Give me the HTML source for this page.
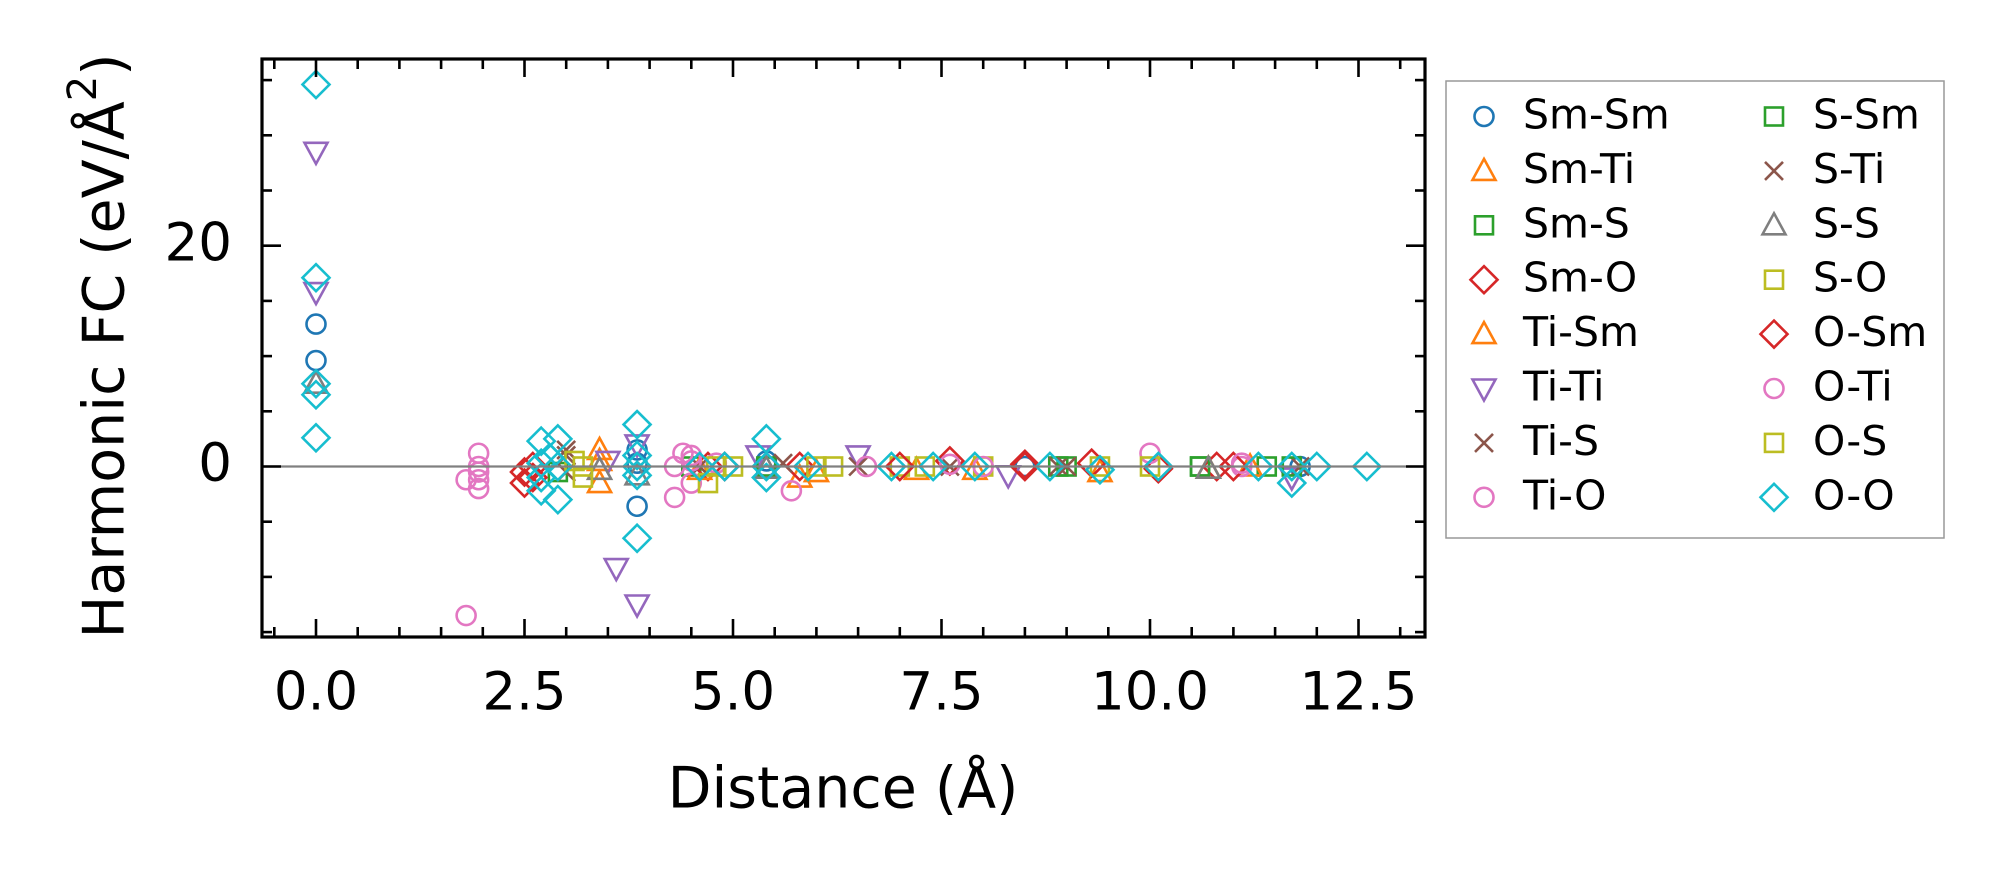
<!DOCTYPE html>
<html><head><meta charset="utf-8"><style>
html,body{margin:0;padding:0;background:#fff;}
svg{display:block;font-family:"DejaVu Sans","Liberation Sans",sans-serif;}
</style></head><body>
<svg id="chart" width="2004" height="883" viewBox="0 0 2004 883" xmlns="http://www.w3.org/2000/svg">
<rect width="2004" height="883" fill="#fff"/>
<g id="marks"></g>
<g id="axes"></g>
<text x="843" y="792" font-size="57" text-anchor="middle" dominant-baseline="middle">Distance (Å)</text>
<text transform="translate(108,346) rotate(-90)" font-size="57" text-anchor="middle" dominant-baseline="middle">Harmonic FC (eV/Å<tspan baseline-shift="super" font-size="40">2</tspan>)</text>
<g id="legend"></g>
</svg>
<script>
const xTicks=[0,2.5,5,7.5,10,12.5];
const xTickLabels=["0.0","2.5","5.0","7.5","10.0","12.5"];
const yTicks=[0,20];
const yTickLabels=["0","20"];
const seriesNames=["Sm-Sm","Sm-Ti","Sm-S","Sm-O","Ti-Sm","Ti-Ti","Ti-S","Ti-O","S-Sm","S-Ti","S-S","S-O","O-Sm","O-Ti","O-S","O-O"];
const seriesColors=["#1f77b4","#ff7f0e","#2ca02c","#d62728","#ff7f0e","#9467bd","#8c564b","#e377c2","#2ca02c","#8c564b","#7f7f7f","#bcbd22","#d62728","#e377c2","#bcbd22","#17becf"];
const seriesMarkers=["o","^","s","D","^","v","x","o","s","x","^","s","D","o","s","D"];
const smSm=[[0,12.9],[0,9.6],[3.85,-3.6],[3.85,1.5],[3.85,0.3],[5.4,0.5],[8.5,0],[11.8,0]];
const smTi=[[3.4,1.5],[3.4,-1.5],[5.8,-1],[7.9,-0.3],[9.4,-0.5],[10.7,-0.2]];
const smS=[[2.9,-0.5],[4.5,0],[8.9,0],[10.6,0],[11.4,0]];
const smO=[[2.5,-0.5],[2.5,-1.5],[2.6,0],[4.7,0],[5.8,0],[7.6,0.5],[8.5,0.2],[9.3,0.3],[10.1,-0.2],[10.8,0]];
const tiSm=[[3.4,0.5],[4.6,-0.3],[6.0,-0.5],[7.2,-0.3],[11.2,0]];
const tiTi=[[0,28.5],[0,15.8],[3.6,-9.2],[3.85,-12.5],[3.85,2],[3.5,0.5],[5.3,1],[6.5,1],[8.3,-0.8],[11.7,-1]];
const tiS=[[3.0,1.5],[3.0,-0.5],[4.6,0],[6.5,0],[7.6,0],[8.9,0],[11.8,0]];
const tiO=[[1.95,1.2],[1.95,0],[1.95,-0.5],[1.95,-1.2],[1.95,-2],[1.8,-1.2],[1.8,-13.5],[4.3,-2.8],[4.3,0],[4.5,0.5],[4.5,-1.5],[4.4,1.2],[5.7,-2.2],[5.4,0],[7.6,0.2],[10.0,1.2],[11.1,0],[4.8,0.3]];
const sSm=[[5.4,0],[10.6,0],[11.7,0],[9.0,0]];
const sTi=[[3.0,1],[5.6,0.3],[9.0,0]];
const sS=[[0,7.5],[3.4,-0.3],[3.85,-0.8],[5.4,-0.2],[10.7,-0.2]];
const sO=[[3.2,0],[3.2,-1],[4.8,0],[4.7,-1.5],[6.2,0],[7.0,0],[8.0,0],[10.0,0],[9.4,0]];
const oSm=[[2.6,-1],[4.9,0],[7.0,0],[8.5,0],[11.0,0]];
const oTi=[[4.5,1],[6.6,0],[8.0,0],[11.1,0.3]];
const oS=[[3.1,0.5],[5.0,0],[6.0,0],[7.3,0]];
const oO=[[0,34.6],[0,17.1],[0,7.5],[0,6.5],[0,2.6],[2.7,2.3],[2.7,-2.2],[2.7,0.3],[2.7,-1],[2.9,2.5],[2.9,-3],[2.9,0],[2.8,0.8],[3.85,3.8],[3.85,-6.5],[3.85,0],[3.85,1],[3.85,-0.8],[4.6,0],[4.9,0],[5.4,2.5],[5.4,0],[5.4,-1],[5.9,0],[6.9,0],[7.4,0],[7.9,0],[8.8,0],[9.4,-0.3],[10.1,0],[11.3,0],[11.7,-1.5],[11.7,0],[12.0,0],[12.6,0]];
const seriesData=[smSm,smTi,smS,smO,tiSm,tiTi,tiS,tiO,sSm,sTi,sS,sO,oSm,oTi,oS,oO];

const NS="http://www.w3.org/2000/svg";
const L=262,R=1425,T=59,B=637;
const X0=316,XS=83.4,Y0=466.5,YS=11.04;
const xs=v=>X0+XS*v, ys=v=>Y0-YS*v;
function mk(tag,attrs,parent){const e=document.createElementNS(NS,tag);for(const k in attrs)e.setAttribute(k,attrs[k]);parent.appendChild(e);return e;}
function marker(type,cx,cy,color,parent){
  let e;const st={fill:"none",stroke:color,"stroke-width":2.6};
  if(type==="o"){e=mk("circle",Object.assign({cx:cx,cy:cy,r:9.5},st),parent);}
  else if(type==="s"){e=mk("rect",Object.assign({x:cx-9,y:cy-9,width:18,height:18},st),parent);}
  else if(type==="D"){const d=13.5;e=mk("polygon",Object.assign({points:`${cx},${cy-d} ${cx+d},${cy} ${cx},${cy+d} ${cx-d},${cy}`},st),parent);}
  else if(type==="^"){e=mk("polygon",Object.assign({points:`${cx},${cy-12} ${cx+11.5},${cy+9} ${cx-11.5},${cy+9}`},st),parent);}
  else if(type==="v"){e=mk("polygon",Object.assign({points:`${cx},${cy+12} ${cx+11.5},${cy-9} ${cx-11.5},${cy-9}`},st),parent);}
  else {const r=9;e=mk("path",Object.assign({d:`M${cx-r},${cy-r}L${cx+r},${cy+r}M${cx-r},${cy+r}L${cx+r},${cy-r}`},st),parent);}
  return e;
}
const marks=document.getElementById("marks");
seriesData.forEach((arr,si)=>{
  const g=mk("g",{},marks);
  
  
  arr.forEach(p=>{
    const m=marker(seriesMarkers[si],xs(p[0]),ys(p[1]),seriesColors[si],g);
    
    
  });
});
const zl=mk("line",{x1:L,x2:R,y1:ys(0),y2:ys(0),stroke:"#808080","stroke-width":2.2},marks);



const axes=document.getElementById("axes");
const fr=mk("rect",{x:L,y:T,width:R-L,height:B-T,fill:"none",stroke:"#000","stroke-width":3.2},axes);


for(let i=-1;i<=26;i++){
  const v=i*0.5; const px=xs(v); if(px<L||px>R) continue;
  const major=i%5===0; const len=major?18:10;
  mk("line",{x1:px,x2:px,y1:B,y2:B-len,stroke:"#000","stroke-width":2.6},axes);
  mk("line",{x1:px,x2:px,y1:T,y2:T+len,stroke:"#000","stroke-width":2.6},axes);
}
for(let v=-15;v<=40;v+=5){
  const py=ys(v); if(py<T||py>B) continue;
  const major=v%20===0; const len=major?19:10;
  mk("line",{x1:L,x2:L+len,y1:py,y2:py,stroke:"#000","stroke-width":2.6},axes);
  mk("line",{x1:R,x2:R-len,y1:py,y2:py,stroke:"#000","stroke-width":2.6},axes);
}
xTicks.forEach((v,i)=>{
  const t=mk("text",{x:xs(v),y:695,"font-size":53,"text-anchor":"middle","dominant-baseline":"middle"},axes);
  t.textContent=xTickLabels[i];
  
  
});
yTicks.forEach((v,i)=>{
  const t=mk("text",{x:232,y:ys(v),"font-size":53,"text-anchor":"end","dominant-baseline":"middle"},axes);
  t.textContent=yTickLabels[i];
  
  
});
const lg=document.getElementById("legend");
const lb=mk("rect",{x:1446,y:81,width:498,height:457,fill:"#fff",stroke:"#999","stroke-width":1.5},lg);


seriesNames.forEach((n,i)=>{
  const col=Math.floor(i/8),row=i%8;
  const mx=col?1774:1484, tx=col?1813:1523, y=116.5+row*54.4;
  const g=mk("g",{},lg);
  
  
  marker(seriesMarkers[i],mx,y,seriesColors[i],g);
  const t=mk("text",{x:tx,y:y+1,"font-size":41,"dominant-baseline":"middle"},g);
  t.textContent=n;
});
</script>
</body></html>
